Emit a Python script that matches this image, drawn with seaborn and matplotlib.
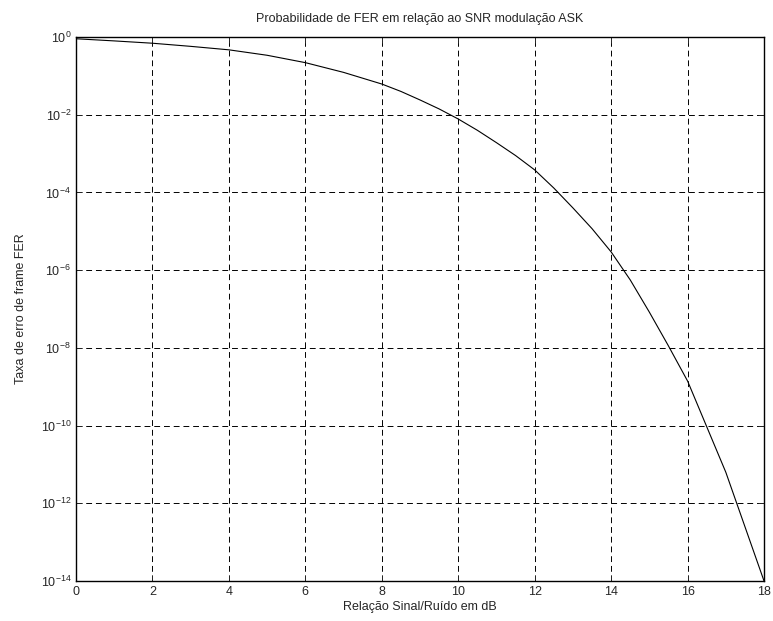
import numpy as np
import pandas as pd
import matplotlib
matplotlib.use('Agg')
import matplotlib.pyplot as plt
import matplotlib.ticker as mticker
import seaborn as sns

# valores (SNR em dB, FER)
snr_db = [0, 1, 2, 3, 4, 5, 6, 7, 8, 8.5, 9, 9.5, 10, 10.5, 11, 11.5,
          12, 12.5, 13, 13.5, 14, 14.5, 15, 15.5, 16, 17, 18]
fer = [0.902, 0.794, 0.692, 0.575, 0.468, 0.339, 0.219, 0.123, 0.0617, 0.0398,
       0.0240, 0.0141, 7.76e-3, 3.98e-3, 1.91e-3, 8.9e-4, 3.8e-4, 1.3e-4,
       4.0e-5, 1.17e-5, 2.95e-6, 5.6e-7, 8.3e-8, 1.12e-8, 1.4e-9, 6.3e-12, 1.0e-14]

x_ticks = [0, 2, 4, 6, 8, 10, 12, 14, 16, 18]
y_ticks = [1e0, 1e-2, 1e-4, 1e-6, 1e-8, 1e-10, 1e-12, 1e-14]

sns.set_style('ticks')
plt.rcParams['font.family'] = ['Liberation Sans', 'DejaVu Sans']
plt.rcParams['mathtext.fontset'] = 'custom'
plt.rcParams['mathtext.rm'] = 'Liberation Sans'
plt.rcParams['mathtext.it'] = 'Liberation Sans'
plt.rcParams['mathtext.default'] = 'regular'
plt.rcParams['axes.unicode_minus'] = False

df = pd.DataFrame({'snr': snr_db, 'fer': fer})

fig = plt.figure(figsize=(7.73, 6.21), dpi=100)
ax = fig.add_axes([0.0983, 0.0644, 0.8901, 0.8760])

sns.lineplot(data=df, x='snr', y='fer', ax=ax, color='black', linewidth=0.8)

ax.set_yscale('log')
ax.set_xlim(0, 18)
ax.set_ylim(1e-14, 1e0)
ax.set_xticks(x_ticks)
ax.set_yticks(y_ticks)
ax.yaxis.set_major_formatter(mticker.LogFormatterMathtext())
ax.yaxis.set_minor_locator(mticker.NullLocator())

ax.grid(True, which='major', color='black', linestyle=(0, (6, 4)), linewidth=0.7)
ax.tick_params(direction='in', top=True, right=True, labelsize=9, length=4, width=0.7)
for s in ax.spines.values():
    s.set_linewidth(1.0)
    s.set_color('black')

ax.set_title('Probabilidade de FER em relação ao SNR modulação ASK', fontsize=9, pad=11)
ax.set_xlabel('Relação Sinal/Ruído em dB', fontsize=9, labelpad=2)
ax.set_ylabel('Taxa de erro de frame FER', fontsize=9, labelpad=10)

fig.savefig('out.png', dpi=100)
